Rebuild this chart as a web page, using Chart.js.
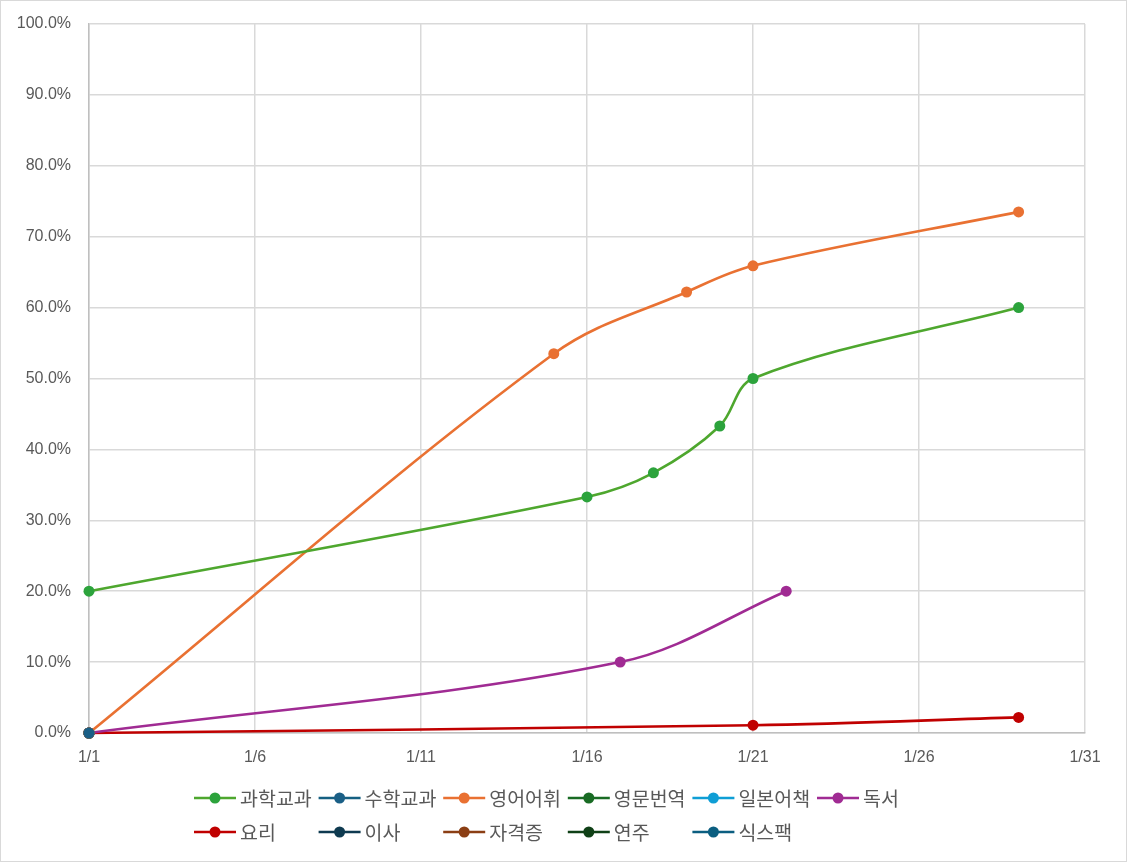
<!DOCTYPE html>
<html>
<head>
<meta charset="utf-8">
<script src="https://cdn.jsdelivr.net/npm/chart.js@4/dist/chart.umd.min.js"></script>
<style>
html,body{margin:0;padding:0;background:#fff;}
#wrap{width:1127px;height:862px;position:relative;}
</style>
</head>
<body>
<div id="wrap"><canvas id="c" width="1127" height="862"></canvas></div>
<script>
// ---- data ----
const seriesNames = ['과학교과','수학교과','영어어휘','영문번역','일본어책','독서','요리','이사','자격증','연주','식스팩'];
const seriesColors = ['#4EA72E','#156082','#E97132','#196B24','#0F9ED5','#A02B93','#C00000','#0E3A50','#8B3E14','#0F4016','#0B5E80'];
const markerColors = ['#2CA33C','#1A5F86','#E97132','#196B24','#0F9ED5','#A02B93','#C00000','#0E3A50','#8B3E14','#0F4016','#0B5E80'];
// day-of-January (x) and percent (y)
const scienceDays = [1,16,18,20,21,29];
const scienceVals = [20.0,33.3,36.7,43.3,50.0,60.0];
const mathDays = [1];
const mathVals = [0];
const vocabDays = [1,15,19,21,29];
const vocabVals = [0,53.5,62.2,65.9,73.5];
const transDays = [1];
const transVals = [0];
const japanDays = [1];
const japanVals = [0];
const readDays = [1,17,22];
const readVals = [0,10.0,20.0];
const cookDays = [1,21,29];
const cookVals = [0,1.1,2.2];
const moveDays = [1];
const moveVals = [0];
const certDays = [1];
const certVals = [0];
const playDays = [1];
const playVals = [0];
const sixDays = [1];
const sixVals = [0];
const xTickValues = [1,6,11,16,21,26,31];
const xTickLabels = ['1/1','1/6','1/11','1/16','1/21','1/26','1/31'];
const yMax = 100, yStep = 10;

const allDays = [scienceDays,mathDays,vocabDays,transDays,japanDays,readDays,cookDays,moveDays,certDays,playDays,sixDays];
const allVals = [scienceVals,mathVals,vocabVals,transVals,japanVals,readVals,cookVals,moveVals,certVals,playVals,sixVals];

const datasets = seriesNames.map((n,i)=>({
  label:n,
  data: allDays[i].map((d,j)=>({x:d,y:allVals[i][j]})),
  borderColor: seriesColors[i],
  backgroundColor: markerColors[i],
  pointBackgroundColor: markerColors[i],
  pointBorderColor: markerColors[i],
  pointRadius:5.5,
  pointBorderWidth:0,
  pointHoverRadius:5.5,
  borderWidth:2.6,
  tension:0.35,
  clip:false,
  fill:false
}));

const bgBorder = {
  id:'bgBorder',
  beforeDraw(chart){
    const ctx=chart.ctx;
    ctx.save();
    ctx.fillStyle='#fff';
    ctx.fillRect(0,0,chart.width,chart.height);
    ctx.restore();
  },
  afterDraw(chart){
    const ctx=chart.ctx;
    ctx.save();
    ctx.strokeStyle='#d9d9d9';
    ctx.lineWidth=1;
    ctx.strokeRect(0.5,0.5,chart.width-1,chart.height-1);
    // legend
    const colX0=195, colW=124.6;
    const rows=[798,832];
    const perRow=6;
    ctx.font='19.5px "Noto Sans CJK KR"';
    ctx.textBaseline='middle';
    chart.data.datasets.forEach((ds,i)=>{
      const r=Math.floor(i/perRow), c=i%perRow;
      const x=colX0+c*colW, y=rows[r];
      ctx.strokeStyle=ds.borderColor;
      ctx.lineWidth=2.6;
      ctx.beginPath();ctx.moveTo(x-1,y);ctx.lineTo(x+41,y);ctx.stroke();
      ctx.fillStyle=ds.pointBackgroundColor;
      ctx.beginPath();ctx.arc(x+20,y,5.5,0,Math.PI*2);ctx.fill();
      ctx.fillStyle='#595959';
      ctx.textAlign='left';
      ctx.fillText(ds.label,x+45,y+1);
    });
    ctx.restore();
  }
};

new Chart(document.getElementById('c'),{
  type:'line',
  data:{datasets},
  options:{
    responsive:false,
    animation:false,
    devicePixelRatio:1,
    layout:{padding:{top:24,right:42,left:0,bottom:0}},
    plugins:{legend:{display:false},tooltip:{enabled:false}},
    scales:{
      x:{
        type:'linear',
        min:1,max:31,
        afterBuildTicks(scale){ scale.ticks = xTickValues.map(v=>({value:v})); },
        afterFit(scale){ scale.height = 862-733; scale.paddingLeft=0; scale.paddingRight=0; },
        ticks:{
          callback:(v)=>{const k=xTickValues.indexOf(v);return k>=0?xTickLabels[k]:'';},
          color:'#595959',
          font:{family:'"Liberation Sans", Arial, sans-serif',size:16},
          padding:15,
          maxRotation:0,
          autoSkip:false
        },
        grid:{color:'#d9d9d9',lineWidth:1.5,drawTicks:false},
        border:{color:'#bfbfbf',width:1.5}
      },
      y:{
        min:0,max:yMax,
        afterFit(scale){ scale.width = 89; scale.paddingTop=0; scale.paddingBottom=0; },
        ticks:{
          stepSize:yStep,
          callback:(v)=>v.toFixed(1)+'%',
          color:'#595959',
          font:{family:'"Liberation Sans", Arial, sans-serif',size:16},
          padding:18
        },
        grid:{color:'#d9d9d9',lineWidth:1.5,drawTicks:false},
        border:{color:'#bfbfbf',width:1.5}
      }
    }
  },
  plugins:[bgBorder]
});
</script>
</body>
</html>
